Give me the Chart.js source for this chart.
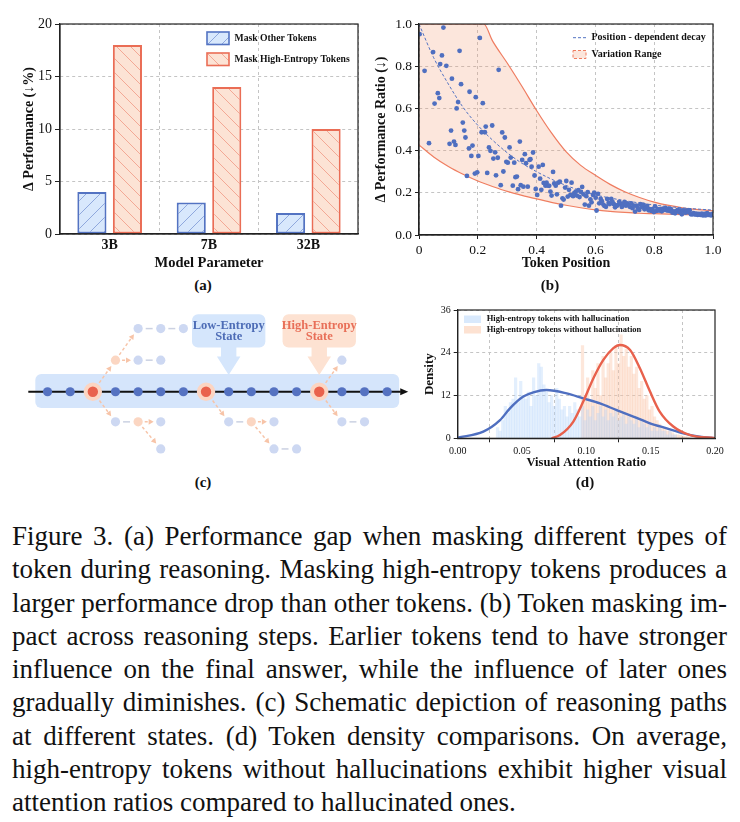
<!DOCTYPE html>
<html lang="en">
<head>
<meta charset="UTF-8">
<title>Figure 3</title>
<script src="https://cdn.jsdelivr.net/npm/chart.js"></script>
<style>
  body { margin: 0; background: #fff; font-family: "Liberation Serif", "Times New Roman", serif; }
  #page { position: relative; width: 740px; height: 822px; overflow: hidden; }
  canvas { position: absolute; }
  .tag { position: absolute; width: 60px; margin-left: -30px; text-align: center; font-weight: bold; font-size: 15px; line-height: 18px; color: #111; }
  #caption { position: absolute; left: 12px; top: 520px; width: 715px; font-family: "Liberation Serif", serif; font-size: 27px; line-height: 33.25px; color: #111; }
  #caption div { white-space: nowrap; height: 33.25px; }
  #caption span { display: inline-block; transform-origin: left center; }
</style>
</head>
<body>
<div id="page">
  <canvas id="chartA" width="370" height="272" style="left:0;top:0"></canvas>
  <canvas id="chartB" width="370" height="272" style="left:370px;top:0"></canvas>
  <canvas id="chartC" width="420" height="170" style="left:0;top:300px"></canvas>
  <canvas id="chartD" width="340" height="172" style="left:400px;top:300px"></canvas>
  <div class="tag" style="left:203px;top:276px">(a)</div>
  <div class="tag" style="left:550px;top:276px">(b)</div>
  <div class="tag" style="left:203px;top:473px">(c)</div>
  <div class="tag" style="left:585px;top:473px">(d)</div>
  <div id="caption">
    <div><span>Figure 3.  (a) Performance gap when masking different types of</span></div>
    <div><span>token during reasoning. Masking high-entropy tokens produces a</span></div>
    <div><span>larger performance drop than other tokens. (b) Token masking im-</span></div>
    <div><span>pact across reasoning steps.  Earlier tokens tend to have stronger</span></div>
    <div><span>influence on the final answer, while the influence of later ones</span></div>
    <div><span>gradually diminishes.  (c) Schematic depiction of reasoning paths</span></div>
    <div><span>at different states.  (d) Token density comparisons.  On average,</span></div>
    <div><span>high-entropy tokens without hallucinations exhibit higher visual</span></div>
    <div class="last"><span>attention ratios compared to hallucinated ones.</span></div>
  </div>
</div>

<script>
// ---------- (a) masking gap ----------
const models = ['3B', '7B', '32B'];
const maskOther = [4, 3, 2];
const maskHighEntropy = [18, 14, 10];

// ---------- (b) token position vs performance ratio ----------
const tokenPos = [0.002,0.019,0.034,0.048,0.053,0.064,0.069,0.072,0.078,0.083,0.093,0.104,0.109,0.112,0.119,0.124,0.128,0.133,0.138,0.143,
  0.149,0.154,0.158,0.163,0.17,0.172,0.178,0.182,0.19,0.193,0.198,0.202,0.207,0.213,0.217,0.224,0.227,0.232,0.238,0.243,
  0.249,0.253,0.259,0.262,0.268,0.271,0.278,0.283,0.287,0.292,0.297,0.302,0.308,0.312,0.319,0.324,0.328,0.333,0.337,0.343,
  0.346,0.351,0.355,0.36,0.364,0.37,0.376,0.379,0.383,0.388,0.393,0.397,0.402,0.407,0.412,0.416,0.421,0.424,0.43,0.434,
  0.439,0.443,0.447,0.451,0.456,0.46,0.465,0.469,0.474,0.479,0.483,0.488,0.492,0.497,0.501,0.506,0.51,0.515,0.519,0.524,
  0.528,0.533,0.537,0.542,0.546,0.551,0.555,0.56,0.564,0.569,0.574,0.578,0.583,0.587,0.592,0.596,0.601,0.604,0.609,0.613,
  0.618,0.622,0.627,0.631,0.636,0.64,0.645,0.649,0.654,0.658,0.663,0.667,0.672,0.676,0.681,0.686,0.69,0.695,0.699,0.704,
  0.708,0.713,0.717,0.722,0.726,0.731,0.735,0.74,0.744,0.749,0.753,0.758,0.762,0.767,0.772,0.776,0.781,0.785,0.79,0.794,
  0.799,0.803,0.808,0.812,0.817,0.821,0.826,0.83,0.835,0.839,0.844,0.848,0.853,0.857,0.862,0.867,0.871,0.876,0.88,0.885,
  0.889,0.894,0.898,0.903,0.907,0.912,0.916,0.921,0.925,0.93,0.934,0.939,0.943,0.948,0.952,0.957,0.962,0.966,0.971,0.975,
  0.98,0.984,0.989,0.993,0.998];
const perfRatio = [0.952,0.778,0.435,0.867,0.623,0.672,0.649,0.81,0.851,0.983,0.802,0.432,0.495,0.741,0.443,0.427,0.6,0.63,0.873,0.715,
  0.533,0.495,0.462,0.28,0.411,0.679,0.375,0.424,0.291,0.653,0.297,0.375,0.934,0.487,0.625,0.487,0.514,0.294,0.415,0.399,
  0.519,0.362,0.392,0.283,0.366,0.783,0.236,0.486,0.301,0.462,0.347,0.343,0.415,0.367,0.234,0.343,0.274,0.277,0.217,0.443,
  0.236,0.356,0.229,0.383,0.34,0.229,0.356,0.359,0.324,0.391,0.282,0.218,0.19,0.324,0.267,0.214,0.332,0.247,0.234,0.248,
  0.234,0.233,0.206,0.187,0.299,0.244,0.234,0.193,0.248,0.253,0.139,0.174,0.168,0.225,0.256,0.182,0.214,0.19,0.248,0.184,
  0.198,0.206,0.187,0.212,0.18,0.204,0.228,0.193,0.144,0.184,0.203,0.139,0.169,0.155,0.19,0.201,0.177,0.116,0.195,0.15,
  0.171,0.16,0.144,0.138,0.134,0.171,0.152,0.147,0.171,0.158,0.146,0.131,0.138,0.142,0.157,0.149,0.133,0.147,0.157,0.139,
  0.15,0.142,0.134,0.15,0.127,0.139,0.111,0.139,0.128,0.119,0.146,0.134,0.144,0.122,0.13,0.138,0.117,0.123,0.114,0.122,
  0.109,0.136,0.114,0.122,0.116,0.122,0.112,0.125,0.119,0.128,0.116,0.122,0.114,0.123,0.106,0.112,0.103,0.114,0.119,0.108,
  0.116,0.098,0.116,0.114,0.106,0.117,0.109,0.116,0.098,0.098,0.103,0.097,0.101,0.095,0.1,0.095,0.101,0.093,0.1,0.093,
  0.103,0.095,0.098,0.093,0.1];
const bandX     = [0, 0.05, 0.1, 0.15, 0.2, 0.22, 0.25, 0.3, 0.35, 0.4, 0.45, 0.5, 0.55, 0.6, 0.65, 0.7, 0.75, 0.8, 0.85, 0.9, 0.95, 1.0];
const bandUpper = [1, 1, 1, 1, 1, 1, 0.92, 0.815, 0.705, 0.59, 0.485, 0.395, 0.33, 0.283, 0.24, 0.205, 0.178, 0.156, 0.14, 0.128, 0.12, 0.115];
const bandLower = [0.427, 0.37, 0.325, 0.288, 0.256, 0.245, 0.23, 0.207, 0.188, 0.171, 0.155, 0.141, 0.129, 0.119, 0.112, 0.107, 0.103, 0.101, 0.099, 0.097, 0.095, 0.094];
const decayX = [0, 0.05, 0.1, 0.15, 0.2, 0.25, 0.3, 0.35, 0.4, 0.45, 0.5, 0.55, 0.6, 0.7, 0.8, 0.9, 1.0];
const decayY = [1.0, 0.84, 0.715, 0.605, 0.52, 0.45, 0.39, 0.34, 0.3, 0.265, 0.235, 0.21, 0.19, 0.163, 0.142, 0.128, 0.118];
const xTicksB = ['0', '0.2', '0.4', '0.6', '0.8', '1.0'];

// ---------- (c) reasoning path schematic (x = token step, y = branch row) ----------
const mainSteps = [0, 1, 3, 4, 5, 6, 8, 9, 10, 11, 13, 14, 15];
const highEntropySteps = [2, 7, 12];
const faintX = [4, 5, 4, 5, 6, 3, 5, 5, 8, 10, 10, 11, 13, 13, 14];
const faintY = [1.05, 1.05, 2.1, 2.1, 2.1, -1, -1, -1.9, -1, -1, -1.9, -1.9, 1.05, -1, -1];
const peachX = [3, 4, 9];
const peachY = [1.05, -1, -1];
// [fromX, fromY, toX, toY, kind]
const branchEdges = [
  [2, 0, 3, 1.05, 'arrow'], [3, 1.05, 4, 1.05, 'arrow'], [3, 1.05, 4, 2.1, 'arrow'],
  [4, 1.05, 5, 1.05, 'line'], [4, 2.1, 5, 2.1, 'line'], [5, 2.1, 6, 2.1, 'line'],
  [2, 0, 3, -1, 'arrow'], [3, -1, 4, -1, 'line'], [4, -1, 5, -1, 'arrow'], [4, -1, 5, -1.9, 'arrow'],
  [7, 0, 8, -1, 'arrow'], [8, -1, 9, -1, 'line'], [9, -1, 10, -1, 'arrow'], [9, -1, 10, -1.9, 'arrow'], [10, -1.9, 11, -1.9, 'line'],
  [12, 0, 13, 1.05, 'arrow'], [12, 0, 13, -1, 'arrow'], [13, -1, 14, -1, 'line']
];
const calloutText = [['Low-Entropy', 'State'], ['High-Entropy', 'State']];
const calloutStep = [8, 12];

// ---------- (d) visual attention ratio densities ----------
const histBins = [0.031,0.033,0.035,0.037,0.039,0.041,0.043,0.045,0.047,0.049,0.051,0.053,0.055,0.057,0.059,0.061,0.063,0.065,0.067,0.069,
  0.071,0.073,0.075,0.077,0.079,0.081,0.083,0.085,0.087,0.089,0.091,0.093,0.095,0.097,0.099,0.101,0.103,0.105,0.107,0.109,
  0.111,0.113,0.115,0.117,0.119,0.121,0.123,0.125,0.127,0.129,0.131,0.133,0.135,0.137,0.139,0.141,0.143,0.145,0.147,0.149,
  0.151,0.153,0.155,0.157,0.159,0.161,0.163,0.165,0.167,0.169,0.171,0.173,0.175,0.177,0.179];
const histHallucinated = [3,2,5,9,7,10,11,17,10,16,12,11,13,9,17,12,21,20,15,13,
  10,12,9,14,11,8,9,6,9,7,10,8,6,9,5,8,6,9,5,7,
  9,6,8,5,7,6,8,5,6,7,4,6,5,4,6,3,5,4,3,4,
  2,3,2,3,2,2,1,2,1,1,0,0,0,0,0];
const histClean = [0,0,0,0,0,0,0,0,0,0,0,0,0,0,0,0,0,0,0,0,
  0,0,0,0,0,0,0,0,0,0,0,0,0,26,12,17,10,19,14,21,
  12,23,17,21,24,19,26,21,29,23,25,20,23,18,20,14,16,11,12,8,
  9,6,5,4,3,3,2,2,1.5,1,1,0.8,0.6,0.5,0.4];
const kdeHallX = [0, 0.0199, 0.0329, 0.0406, 0.051, 0.0588, 0.069, 0.0847, 0.0976, 0.1106, 0.1236, 0.1365, 0.1495, 0.1625, 0.1754, 0.188, 0.2];
const kdeHallY = [0.17, 1.86, 5.1, 8.4, 11.7, 12.9, 13.55, 12.6, 11.2, 9.8, 7.9, 6.1, 4.2, 2.8, 1.4, 0.45, 0.05];
const kdeCleanX = [0.073, 0.0795, 0.0899, 0.0976, 0.1054, 0.1132, 0.121, 0.126, 0.134, 0.1417, 0.1495, 0.157, 0.1676, 0.1806, 0.2];
const kdeCleanY = [0, 0.9, 4.7, 10.3, 16.8, 22, 25.3, 26.2, 24.8, 19.6, 13.1, 7.5, 3.3, 0.9, 0.05];

// ---------- shared look ----------
const SERIF = '"Liberation Serif", "Times New Roman", serif';
const INK = '#111';
const GRID = '#c4c4c4';
const BLUE = '#5373c2';
const BLUE_FILL = '#d8e8fc';
const RED = '#ea6d55';
const RED_FILL = '#fce3d5';
Chart.defaults.font.family = SERIF;
Chart.defaults.color = INK;
Chart.defaults.animation = false;
Chart.defaults.events = [];
Chart.defaults.plugins.legend.display = false;
Chart.defaults.plugins.tooltip.enabled = false;

function hatch(bg, line, dir) {
  const c = document.createElement('canvas');
  c.width = 14; c.height = 14;
  const g = c.getContext('2d');
  g.fillStyle = bg;
  g.fillRect(0, 0, 14, 14);
  g.strokeStyle = line;
  g.lineWidth = 1;
  g.beginPath();
  for (const k of [-14, 0, 14]) {
    if (dir === '/') { g.moveTo(k, 14); g.lineTo(k + 14, 0); }
    else { g.moveTo(k, 0); g.lineTo(k + 14, 14); }
  }
  g.stroke();
  return g.createPattern(c, 'repeat');
}

const framePlugin = {
  id: 'frame',
  afterDraw(chart) {
    const { ctx, chartArea: a } = chart;
    ctx.save();
    ctx.strokeStyle = '#222';
    ctx.lineWidth = 1.2;
    ctx.strokeRect(a.left, a.top, a.right - a.left, a.bottom - a.top);
    ctx.restore();
  }
};

function axisBase(extra) {
  return Object.assign({
    grid: { color: GRID, tickColor: '#222', tickLength: 4, tickBorderDash: [] },
    border: { color: '#222', width: 1.2, dash: [3, 3] },
  }, extra);
}

// ---------- chart (a) ----------
const blueHatch = hatch(BLUE_FILL, 'rgba(83,115,194,0.55)', '/');
const redHatch = hatch(RED_FILL, 'rgba(234,109,85,0.5)', '\\');

new Chart(document.getElementById('chartA'), {
  type: 'bar',
  data: {
    labels: models,
    datasets: [
      { label: 'Mask Other Tokens', data: maskOther, backgroundColor: blueHatch, borderColor: BLUE, borderWidth: 2, borderSkipped: false },
      { label: 'Mask High-Entropy Tokens', data: maskHighEntropy, backgroundColor: redHatch, borderColor: RED, borderWidth: 2, borderSkipped: false }
    ]
  },
  options: {
    responsive: false,
    categoryPercentage: 0.715,
    barPercentage: 0.82,
    layout: { padding: { left: 0, right: 12, top: 24, bottom: 0 } },
    scales: {
      x: axisBase({
        grid: { offset: true, color: GRID, drawTicks: false },
        ticks: { font: { size: 14, weight: 'bold' }, color: INK, padding: 3 },
        title: { display: true, text: 'Model Parameter', font: { size: 14.5, weight: 'bold' }, color: INK, padding: { top: 0, bottom: 0 } },
        afterFit: s => { s.height = 38; }
      }),
      y: axisBase({
        min: 0, max: 20,
        ticks: { stepSize: 5, font: { size: 14 }, color: INK, padding: 3 },
        grid: { color: GRID, tickColor: '#222', tickLength: 5, tickBorderDash: [] },
        title: { display: true, text: 'Δ Performance (↓%)', font: { size: 14, weight: 'bold' }, color: INK, padding: { top: 21, bottom: 0 } },
        afterFit: s => { s.width = 60; }
      })
    }
  },
  plugins: [framePlugin, {
    id: 'legendA',
    afterDraw(chart) {
      const { ctx, chartArea: a } = chart;
      const items = [
        ['Mask Other Tokens', blueHatch, BLUE],
        ['Mask High-Entropy Tokens', redHatch, RED]
      ];
      ctx.save();
      ctx.font = 'bold 9.7px ' + SERIF;
      ctx.textBaseline = 'middle';
      items.forEach(([txt, fill, edge], i) => {
        const x = a.right - 151, y = a.top + 8 + i * 21;
        ctx.fillStyle = fill;
        ctx.fillRect(x, y, 22, 12.5);
        ctx.strokeStyle = edge;
        ctx.lineWidth = 1.6;
        ctx.strokeRect(x, y, 22, 12.5);
        ctx.fillStyle = INK;
        ctx.fillText(txt, x + 27.5, y + 6.5);
      });
      ctx.restore();
    }
  }]
});

// ---------- chart (b) ----------
const xy = (xs, ys) => xs.map((x, i) => ({ x, y: ys[i] }));

new Chart(document.getElementById('chartB'), {
  type: 'scatter',
  data: {
    datasets: [
      { label: 'tokens', data: xy(tokenPos, perfRatio), pointRadius: 2.4, backgroundColor: '#4f6fc0', borderWidth: 0 },
      { label: 'Position - dependent decay', data: xy(decayX, decayY), showLine: true, pointRadius: 0, borderColor: '#5373c2', borderWidth: 1, borderDash: [3, 2], cubicInterpolationMode: 'monotone' },
      { label: 'Variation Range', data: xy(bandX, bandUpper), showLine: true, pointRadius: 0, borderColor: '#ef7c60', borderWidth: 1.2, backgroundColor: 'rgba(242,150,110,0.24)', fill: '+1', cubicInterpolationMode: 'monotone' },
      { label: 'lower', data: xy(bandX, bandLower), showLine: true, pointRadius: 0, borderColor: '#ef7c60', borderWidth: 1.2, fill: false, cubicInterpolationMode: 'monotone' }
    ]
  },
  options: {
    responsive: false,
    layout: { padding: { left: 0, right: 27, top: 24, bottom: 0 } },
    scales: {
      x: axisBase({
        type: 'linear', min: 0, max: 1,
        ticks: { stepSize: 0.2, font: { size: 13.5 }, color: INK, padding: 3, callback: (v, i) => xTicksB[i] },
        title: { display: true, text: 'Token Position', font: { size: 14, weight: 'bold' }, color: INK, padding: { top: 0, bottom: 0 } },
        afterFit: s => { s.height = 37; }
      }),
      y: axisBase({
        min: 0, max: 1,
        ticks: { stepSize: 0.2, font: { size: 13.5 }, color: INK, padding: 3, callback: v => v.toFixed(1) },
        title: { display: true, text: 'Δ Performance Ratio (↓)', font: { size: 14, weight: 'bold' }, color: INK, padding: { top: 3, bottom: 0 } },
        afterFit: s => { s.width = 49; }
      })
    }
  },
  plugins: [framePlugin, {
    id: 'legendB',
    afterDraw(chart) {
      const { ctx, chartArea: a } = chart;
      ctx.save();
      ctx.font = 'bold 10px ' + SERIF;
      ctx.textBaseline = 'middle';
      const x = a.right - 140;
      ctx.strokeStyle = '#5373c2';
      ctx.lineWidth = 1;
      ctx.setLineDash([3, 2]);
      ctx.beginPath();
      ctx.moveTo(x, a.top + 13.7);
      ctx.lineTo(x + 13, a.top + 13.7);
      ctx.stroke();
      ctx.fillStyle = 'rgba(242,150,110,0.24)';
      ctx.fillRect(x, a.top + 26.5, 13, 8);
      ctx.strokeStyle = '#ef7c60';
      ctx.strokeRect(x, a.top + 26.5, 13, 8);
      ctx.setLineDash([]);
      ctx.fillStyle = INK;
      ctx.fillText('Position - dependent decay', x + 18.5, a.top + 13.7);
      ctx.fillText('Variation Range', x + 18.5, a.top + 30.7);
      ctx.restore();
    }
  }]
});

// ---------- chart (c) ----------
const NODE_R = 4.6;
function arrowHead(ctx, x1, y1, x2, y2, len, half, color) {
  const ang = Math.atan2(y2 - y1, x2 - x1);
  ctx.fillStyle = color;
  ctx.beginPath();
  ctx.moveTo(x2, y2);
  ctx.lineTo(x2 - len * Math.cos(ang) + half * Math.sin(ang), y2 - len * Math.sin(ang) - half * Math.cos(ang));
  ctx.lineTo(x2 - len * Math.cos(ang) - half * Math.sin(ang), y2 - len * Math.sin(ang) + half * Math.cos(ang));
  ctx.closePath();
  ctx.fill();
}
function roundRect(ctx, x, y, w, h, r) {
  ctx.beginPath();
  ctx.moveTo(x + r, y);
  ctx.arcTo(x + w, y, x + w, y + h, r);
  ctx.arcTo(x + w, y + h, x, y + h, r);
  ctx.arcTo(x, y + h, x, y, r);
  ctx.arcTo(x, y, x + w, y, r);
  ctx.closePath();
}

const schematicPlugin = {
  id: 'schematic',
  beforeDatasetsDraw(chart) {
    const { ctx, scales: { x: sx, y: sy } } = chart;
    const X = v => sx.getPixelForValue(v), Y = v => sy.getPixelForValue(v);
    ctx.save();
    // highlighted main path
    ctx.fillStyle = '#d5e5fb';
    roundRect(ctx, X(-0.54), Y(0.59), X(15.53) - X(-0.54), Y(-0.54) - Y(0.59), 6);
    ctx.fill();
    ctx.strokeStyle = '#111';
    ctx.lineWidth = 1.8;
    ctx.beginPath();
    ctx.moveTo(X(-0.85), Y(0));
    ctx.lineTo(X(15.6), Y(0));
    ctx.stroke();
    arrowHead(ctx, X(15.5), Y(0), X(15.93), Y(0), 8, 3.5, '#111');
    // branches
    branchEdges.forEach(([x1, y1, x2, y2, kind]) => {
      const p1 = [X(x1), Y(y1)], p2 = [X(x2), Y(y2)];
      const d = Math.hypot(p2[0] - p1[0], p2[1] - p1[1]);
      const ux = (p2[0] - p1[0]) / d, uy = (p2[1] - p1[1]) / d;
      const g1 = (y1 === 0 ? 9 : NODE_R) + 2, g2 = NODE_R + 2.5;
      const a = [p1[0] + ux * g1, p1[1] + uy * g1], b = [p2[0] - ux * g2, p2[1] - uy * g2];
      if (kind === 'arrow') {
        ctx.strokeStyle = '#f7c4a8';
        ctx.lineWidth = 1.5;
        ctx.setLineDash([3, 2.5]);
        ctx.beginPath();
        ctx.moveTo(a[0], a[1]);
        ctx.lineTo(b[0] - ux * 3, b[1] - uy * 3);
        ctx.stroke();
        ctx.setLineDash([]);
        arrowHead(ctx, a[0], a[1], b[0], b[1], 5, 2.8, '#f7c4a8');
      } else {
        ctx.strokeStyle = '#cbd1e2';
        ctx.lineWidth = 1.5;
        ctx.beginPath();
        ctx.moveTo(a[0] + ux, a[1] + uy);
        ctx.lineTo(b[0] - ux, b[1] - uy);
        ctx.stroke();
      }
    });
    ctx.restore();
  },
  afterDatasetsDraw(chart) {
    const { ctx, scales: { x: sx, y: sy } } = chart;
    const X = v => sx.getPixelForValue(v), Y = v => sy.getPixelForValue(v);
    const styles = [['#d5e6fc', '#4d6cb6'], ['#fde2d2', '#e86f58']];
    ctx.save();
    calloutStep.forEach((s, i) => {
      const [fill, ink] = styles[i];
      ctx.fillStyle = fill;
      roundRect(ctx, X(s - 1.62), Y(2.58), X(s + 1.62) - X(s - 1.62), Y(1.47) - Y(2.58), 6);
      ctx.fill();
      ctx.beginPath();
      ctx.moveTo(X(s - 0.34), Y(1.5));
      ctx.lineTo(X(s - 0.34), Y(1.17));
      ctx.lineTo(X(s - 0.52), Y(1.17));
      ctx.lineTo(X(s), Y(0.56));
      ctx.lineTo(X(s + 0.52), Y(1.17));
      ctx.lineTo(X(s + 0.34), Y(1.17));
      ctx.lineTo(X(s + 0.34), Y(1.5));
      ctx.closePath();
      ctx.fill();
      ctx.fillStyle = ink;
      ctx.font = 'bold 12.5px ' + SERIF;
      ctx.textAlign = 'center';
      ctx.textBaseline = 'middle';
      ctx.fillText(calloutText[i][0], X(s), Y(2.2));
      ctx.fillText(calloutText[i][1], X(s), Y(1.82));
    });
    ctx.restore();
  }
};

new Chart(document.getElementById('chartC'), {
  type: 'scatter',
  data: {
    datasets: [
      { data: mainSteps.map(x => ({ x, y: 0 })), pointRadius: NODE_R, backgroundColor: '#5572c1', borderWidth: 0 },
      { data: highEntropySteps.map(x => ({ x, y: 0 })), pointRadius: 7.2, backgroundColor: '#e9624d', borderColor: '#fcd5c2', borderWidth: 4 },
      { data: xy(faintX, faintY), pointRadius: NODE_R, backgroundColor: '#cdd8f2', borderWidth: 0 },
      { data: xy(peachX, peachY), pointRadius: NODE_R, backgroundColor: '#fbd6c2', borderWidth: 0 }
    ]
  },
  options: {
    responsive: false,
    layout: { padding: 0, autoPadding: false },
    scales: {
      x: { type: 'linear', display: false, min: -2.1, max: 16.45 },
      y: { display: false, min: -2.6, max: 3.05 }
    }
  },
  plugins: [schematicPlugin]
});

// ---------- chart (d) ----------
const HALL_BAR = 'rgba(178,210,250,0.36)';
const CLEAN_BAR = 'rgba(250,196,165,0.4)';
new Chart(document.getElementById('chartD'), {
  type: 'bar',
  data: {
    datasets: [
      { type: 'line', data: xy(kdeCleanX, kdeCleanY), borderColor: '#e8614c', borderWidth: 2.4, pointRadius: 0, cubicInterpolationMode: 'monotone', order: -2 },
      { type: 'line', data: xy(kdeHallX, kdeHallY), borderColor: '#4f6fc0', borderWidth: 2.4, pointRadius: 0, cubicInterpolationMode: 'monotone', order: -1 },
      { label: 'High-entropy tokens with hallucination', data: xy(histBins, histHallucinated), backgroundColor: HALL_BAR, grouped: false, barPercentage: 1, categoryPercentage: 1, order: 1 },
      { label: 'High-entropy tokens without hallucination', data: xy(histBins, histClean), backgroundColor: CLEAN_BAR, grouped: false, barPercentage: 1, categoryPercentage: 1, order: 2 }
    ]
  },
  options: {
    responsive: false,
    layout: { padding: { left: 0, right: 25, top: 10, bottom: 0 } },
    scales: {
      x: axisBase({
        type: 'linear', min: 0, max: 0.2, offset: false,
        ticks: { stepSize: 0.05, font: { size: 10 }, color: INK, padding: 3, callback: v => v.toFixed(2) },
        title: { display: true, text: 'Visual Attention Ratio', font: { size: 12.5, weight: 'bold' }, color: INK, padding: { top: 0, bottom: 2 } },
        afterFit: s => { s.height = 33.7; }
      }),
      y: axisBase({
        min: 0, max: 36,
        ticks: { stepSize: 12, font: { size: 10 }, color: INK, padding: 3 },
        title: { display: true, text: 'Density', font: { size: 13, weight: 'bold' }, color: INK, padding: { top: 22, bottom: 0 } },
        afterFit: s => { s.width = 57.7; }
      })
    }
  },
  plugins: [framePlugin, {
    id: 'legendD',
    afterDraw(chart) {
      const { ctx, chartArea: a } = chart;
      ctx.save();
      ctx.font = 'bold 8.5px ' + SERIF;
      ctx.textBaseline = 'middle';
      [['High-entropy tokens with hallucination', '#d9e9fc'], ['High-entropy tokens without hallucination', '#fde2d2']].forEach(([t, c], i) => {
        ctx.fillStyle = c;
        ctx.fillRect(a.left + 6.3, a.top + 5.5 + i * 10.5, 17, 7.5);
        ctx.fillStyle = INK;
        ctx.fillText(t, a.left + 29, a.top + 9.2 + i * 10.8);
      });
      ctx.restore();
    }
  }]
});

// ---------- caption: justify each line to the column width ----------
const COL = 715;
document.querySelectorAll('#caption div').forEach(div => {
  const span = div.querySelector('span');
  const w = span.getBoundingClientRect().width;
  if (w > COL) {
    span.style.transform = 'scaleX(' + (COL / w) + ')';
  } else if (!div.classList.contains('last')) {
    const gaps = span.textContent.trim().split(/\s+/).length - 1;
    span.style.wordSpacing = ((COL - w) / gaps) + 'px';
  }
});
</script>
</body>
</html>
